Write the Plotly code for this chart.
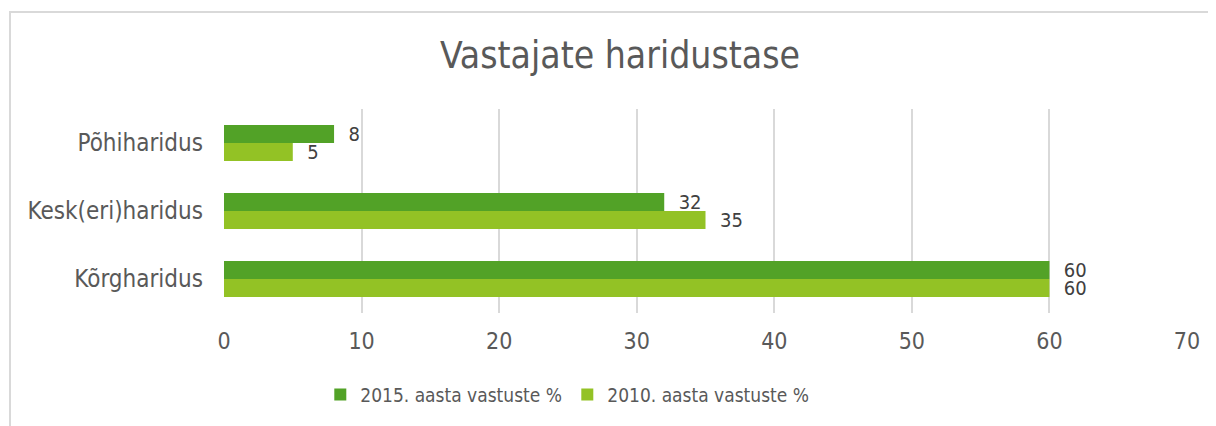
import plotly.graph_objects as go

categories = ["Põhiharidus", "Kesk(eri)haridus", "Kõrgharidus"]
series_2015 = [8, 32, 60]
series_2010 = [5, 35, 60]
name_2015 = "2015. aasta vastuste %"
name_2010 = "2010. aasta vastuste %"
x_ticks = [0, 10, 20, 30, 40, 50, 60, 70]

FONT = "DejaVu Sans Condensed, DejaVu Sans, sans-serif"
C2015 = "#52A227"
C2010 = "#93C225"

fig = go.Figure()
fig.add_trace(go.Bar(
    y=categories, x=series_2015, name=name_2015, orientation="h",
    marker=dict(color=C2015, line=dict(width=0)),
    text=series_2015, texttemplate="  %{x}", textposition="outside",
    constraintext="none",
    textfont=dict(family=FONT, size=20, color="#404040"), cliponaxis=False,
))
fig.add_trace(go.Bar(
    y=categories, x=series_2010, name=name_2010, orientation="h",
    marker=dict(color=C2010, line=dict(width=0)),
    text=series_2010, texttemplate="  %{x}", textposition="outside",
    constraintext="none",
    textfont=dict(family=FONT, size=20, color="#404040"), cliponaxis=False,
))

fig.update_layout(
    width=1208, height=418,
    margin=dict(l=216, r=29, t=101, b=113),
    paper_bgcolor="white", plot_bgcolor="white",
    barmode="group", bargap=0.47, bargroupgap=0,
    font=dict(family=FONT, color="#595959", size=20),
    title=dict(text="Vastajate haridustase", x=0.5066, xanchor="center",
               y=0.8876, yanchor="middle",
               font=dict(family=FONT, size=37, color="#595959")),
    xaxis=dict(range=[0, 70], tickvals=x_ticks, showgrid=True,
               gridcolor="#D9D9D9", gridwidth=1.5, zeroline=False,
               showline=False, ticks="", ticklabelstandoff=12,
               tickfont=dict(family=FONT, size=23, color="#595959")),
    yaxis=dict(autorange="reversed", showgrid=False, zeroline=False,
               showline=False, ticks="", ticklabelstandoff=20,
               tickfont=dict(family=FONT, size=24, color="#595959")),
    legend=dict(orientation="h", x=0.1, xanchor="left", y=-0.40,
                yanchor="middle", font=dict(family=FONT, size=19, color="#595959"),
                itemwidth=30, entrywidth=202, traceorder="normal"),
    showlegend=True,
)
fig.add_shape(type="rect", xref="paper", yref="paper",
              x0=-0.2222, x1=1.2, y0=-0.8, y1=1.4755,
              line=dict(color="#D9D9D9", width=2), fillcolor="rgba(0,0,0,0)",
              layer="below")

fig.write_html("out.html")
